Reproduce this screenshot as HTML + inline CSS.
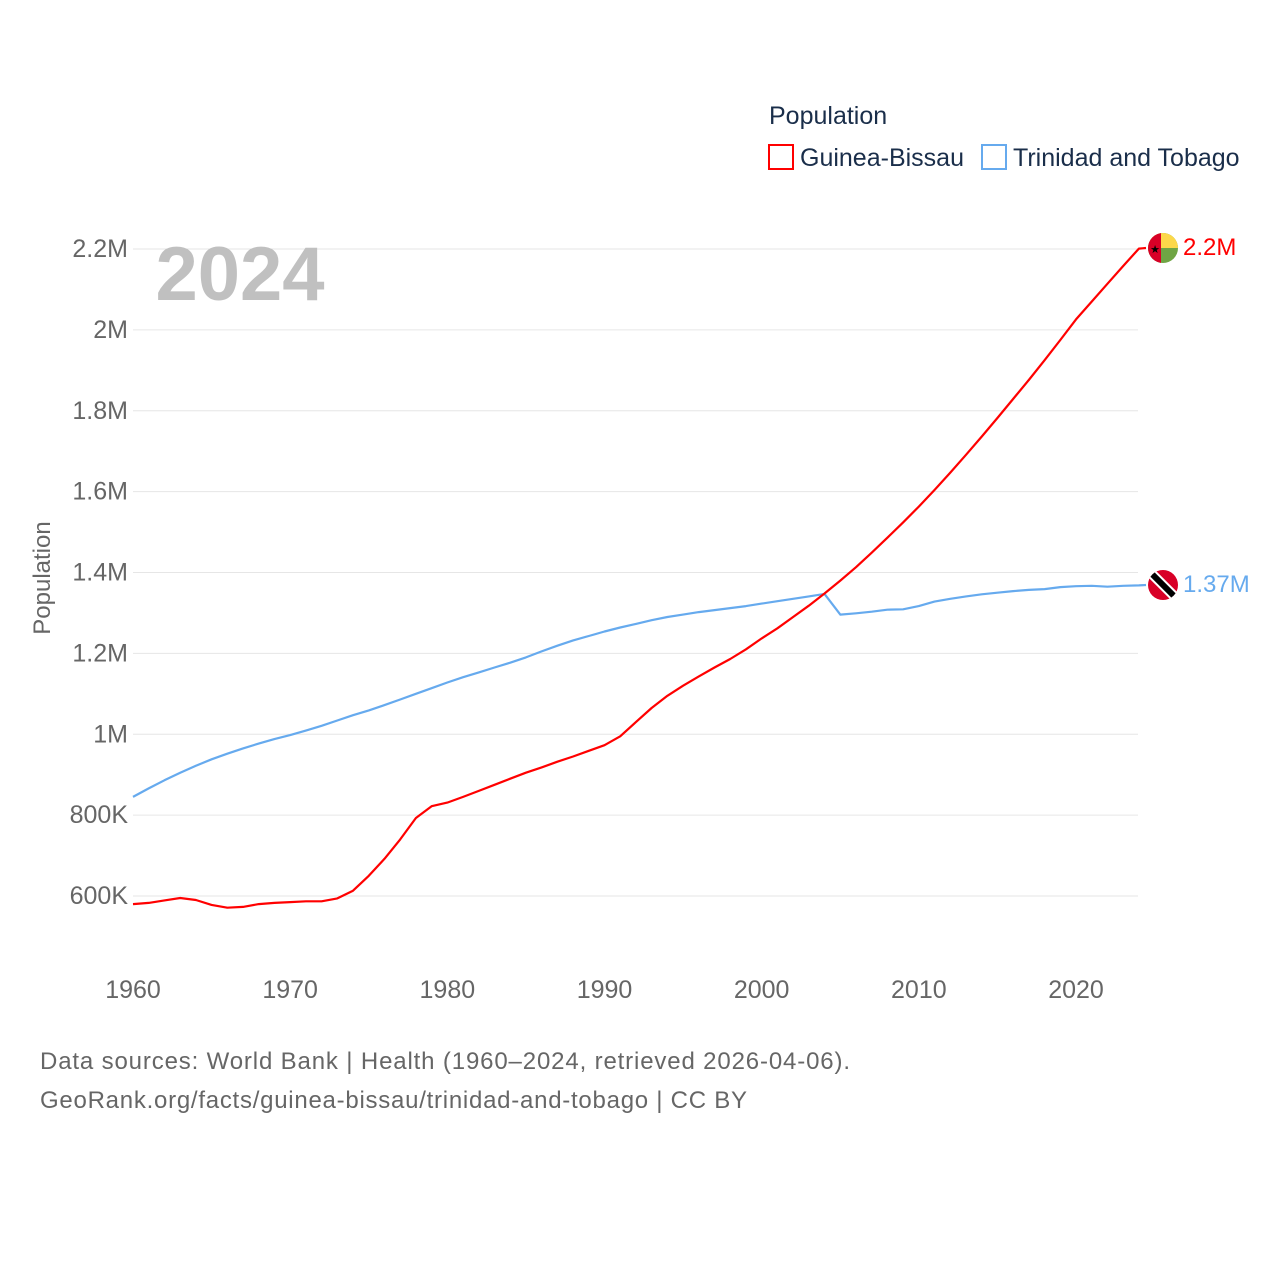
<!DOCTYPE html>
<html><head><meta charset="utf-8"><style>
html,body{margin:0;padding:0;background:#fff;}
svg text{font-family:"Liberation Sans",sans-serif;}
</style></head><body>
<svg width="1280" height="1280" viewBox="0 0 1280 1280" xmlns="http://www.w3.org/2000/svg">
<defs>
<clipPath id="c1"><circle cx="1163" cy="248" r="15"/></clipPath>
<clipPath id="c2"><circle cx="1163" cy="585" r="15"/></clipPath>
</defs>
<g id="grid"></g>
<g id="yt"></g>
<g id="xt"></g>
<text x="240" y="300" font-size="76" font-weight="bold" fill="#c0c0c0" text-anchor="middle">2024</text>
<text transform="translate(50,578) rotate(-90)" font-size="24" fill="#666" text-anchor="middle">Population</text>
<g id="series"></g>
<g>
<text x="769" y="124" font-size="25" fill="#1a2e4a">Population</text>
<g><rect x="769" y="145" width="24" height="24" fill="none" stroke="#f00" stroke-width="2"/><text x="800" y="166" font-size="25" fill="#1a2e4a">Guinea-Bissau</text></g>
<g><rect x="982" y="145" width="24" height="24" fill="none" stroke="#66aaee" stroke-width="2"/><text x="1013" y="166" font-size="25" fill="#1a2e4a">Trinidad and Tobago</text></g>
</g>
<g clip-path="url(#c1)">
<rect x="1148" y="233" width="30" height="30" fill="#6fa544"/>
<rect x="1148" y="233" width="30" height="15" fill="#fcd84a"/>
<rect x="1148" y="233" width="13" height="30" fill="#d80027"/>
<text x="1155" y="253" font-size="11" fill="#000" text-anchor="middle">★</text>
</g>
<g clip-path="url(#c2)">
<rect x="1148" y="570" width="30" height="30" fill="#d80027"/>
<line x1="1148" y1="570" x2="1178" y2="600" stroke="#fff" stroke-width="10"/>
<line x1="1148" y1="570" x2="1178" y2="600" stroke="#000" stroke-width="6"/>
</g>
<text x="1183" y="255" font-size="24" fill="#f00">2.2M</text>
<text x="1183" y="592" font-size="24" fill="#66aaee">1.37M</text>
<text x="40" y="1069" font-size="24" fill="#666" textLength="810">Data sources: World Bank | Health (1960–2024, retrieved 2026-04-06).</text>
<text x="40" y="1108" font-size="24" fill="#666" textLength="707">GeoRank.org/facts/guinea-bissau/trinidad-and-tobago | CC BY</text>
</svg>
<script>
const startYear = 1960;
const xTicks = [1960,1970,1980,1990,2000,2010,2020];
const yTicks = [0.6,0.8,1.0,1.2,1.4,1.6,1.8,2.0,2.2];
const yTickLabels = ["600K","800K","1M","1.2M","1.4M","1.6M","1.8M","2M","2.2M"];
const guineaBissau = [.580,.583,.589,.595,.590,.578,.571,.573,.580,.583,
.585,.587,.587,.594,.613,.650,.692,.740,.793,.822,
.831,.845,.860,.875,.890,.905,.918,.932,.945,.959,
.973,.995,1.030,1.065,1.095,1.120,1.143,1.165,1.186,1.210,
1.237,1.262,1.290,1.318,1.348,1.380,1.413,1.449,1.486,1.524,
1.563,1.604,1.647,1.691,1.736,1.782,1.829,1.876,1.925,1.975,
2.026,2.070,2.114,2.158,2.201];
const trinidad = [.845,.866,.886,.905,.922,.938,.952,.965,.977,.988,
.998,1.009,1.021,1.034,1.047,1.059,1.072,1.086,1.100,1.114,
1.128,1.141,1.153,1.165,1.177,1.190,1.205,1.219,1.232,1.243,
1.254,1.264,1.273,1.282,1.290,1.296,1.302,1.307,1.312,1.317,
1.323,1.329,1.335,1.341,1.347,1.296,1.299,1.303,1.308,1.309,
1.317,1.328,1.335,1.341,1.346,1.350,1.354,1.357,1.359,1.364,
1.366,1.367,1.365,1.367,1.368];
const NS="http://www.w3.org/2000/svg";
const X = yr => 133 + (yr-1960)*(1076-133)/60;
const Y = v => 896 - (v-0.6)*(896-249)/1.6;
function mk(tag, attrs, parent){const e=document.createElementNS(NS,tag);for(const k in attrs)e.setAttribute(k,attrs[k]);parent.appendChild(e);return e;}
const grid=document.getElementById('grid'), yt=document.getElementById('yt'), xt=document.getElementById('xt'), ser=document.getElementById('series');
yTicks.forEach((v,i)=>{
  const l=mk('line',{x1:133,x2:1138,y1:Y(v),y2:Y(v),stroke:'#e6e6e6','stroke-width':1},grid);
  
  
  const t=mk('text',{x:128,y:Y(v)+8,'font-size':25,fill:'#666','text-anchor':'end'},yt);
  t.textContent=yTickLabels[i];
  
  
});
xTicks.forEach(yr=>{
  const t=mk('text',{x:X(yr),y:998,'font-size':25,fill:'#666','text-anchor':'middle'},xt);
  t.textContent=yr;
  
  
});
function line(data,color,name,fy){
  let d=data.map((v,i)=>(i?'L':'M')+X(startYear+i).toFixed(1)+','+Y(v).toFixed(1)).join(' ');
  d+=' L1146,'+fy;
  const p=mk('path',{d:d,fill:'none',stroke:color,'stroke-width':2.2,'stroke-linejoin':'round'},ser);
  
  
}
line(trinidad,'#66aaee','line-trinidad-and-tobago',585);
line(guineaBissau,'#f00','line-guinea-bissau',248);
</script>
</body></html>
